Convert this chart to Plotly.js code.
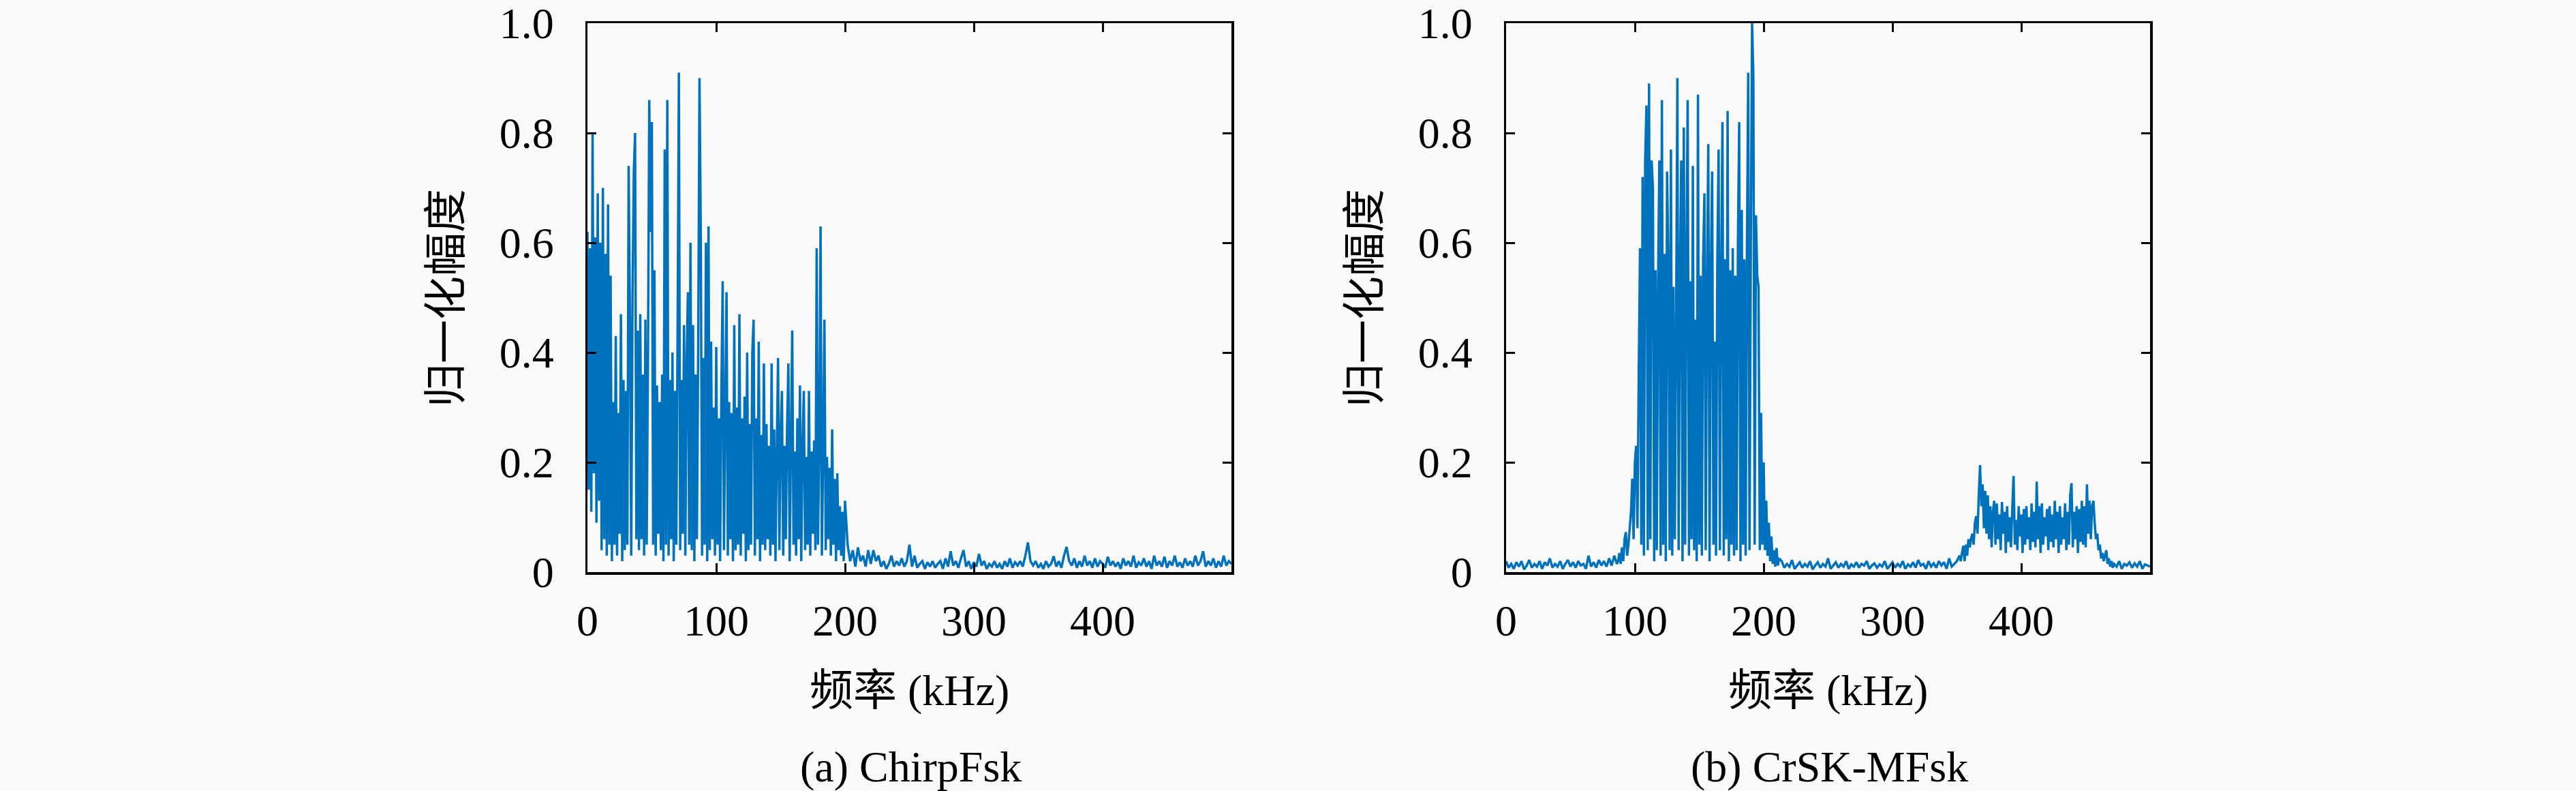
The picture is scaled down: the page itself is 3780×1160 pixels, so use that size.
<!DOCTYPE html>
<html>
<head>
<meta charset="utf-8">
<script src="https://cdn.plot.ly/plotly-3.0.1.min.js"></script>
<style>
  html, body { margin: 0; padding: 0; background: #f9f9f9; }
</style>
</head>
<body>
<div id="chart" style="width:3780px;height:1160px;"></div>
<script>
// ---- data (normalised amplitude vs frequency in kHz) ----
var xTickVals = [0, 100, 200, 300, 400];
var xTickText = ['0', '100', '200', '300', '400'];
var yTickVals = [0, 0.2, 0.4, 0.6, 0.8, 1.0];
var yTickText = ['0', '0.2', '0.4', '0.6', '0.8', '1.0'];

// (a) ChirpFsk: 0..200 kHz every 1 kHz
var chirpBand = [
  0.62, 0.15, 0.59, 0.11, 0.80, 0.18, 0.61, 0.09, 0.69, 0.13,
  0.60, 0.04, 0.70, 0.06, 0.58, 0.03, 0.67, 0.05, 0.54, 0.02,
  0.31, 0.05, 0.43, 0.03, 0.29, 0.07, 0.47, 0.02, 0.35, 0.04,
  0.33, 0.05, 0.74, 0.46, 0.03, 0.50, 0.73, 0.80, 0.06, 0.44,
  0.04, 0.47, 0.06, 0.36, 0.03, 0.46, 0.05, 0.39, 0.86, 0.62,
  0.82, 0.05, 0.55, 0.03, 0.34, 0.07, 0.31, 0.04, 0.36, 0.02,
  0.77, 0.05, 0.86, 0.03, 0.35, 0.06, 0.40, 0.02, 0.33, 0.05,
  0.44, 0.91, 0.04, 0.35, 0.07, 0.45, 0.03, 0.38, 0.51, 0.05,
  0.60, 0.04, 0.45, 0.02, 0.36, 0.06, 0.41, 0.90, 0.62, 0.03,
  0.39, 0.05, 0.60, 0.02, 0.63, 0.04, 0.42, 0.06, 0.30, 0.03,
  0.41, 0.05, 0.28, 0.02, 0.33, 0.53, 0.04, 0.29, 0.51, 0.03,
  0.31, 0.06, 0.29, 0.02, 0.45, 0.04, 0.30, 0.05, 0.47, 0.03,
  0.28, 0.07, 0.32, 0.02, 0.40, 0.04, 0.27, 0.05, 0.40, 0.46,
  0.03, 0.28, 0.06, 0.42, 0.02, 0.25, 0.05, 0.38, 0.04, 0.27,
  0.06, 0.23, 0.03, 0.38, 0.05, 0.26, 0.02, 0.22, 0.39, 0.04,
  0.25, 0.33, 0.03, 0.23, 0.06, 0.26, 0.38, 0.02, 0.24, 0.44,
  0.05, 0.22, 0.03, 0.28, 0.06, 0.34, 0.02, 0.23, 0.33, 0.04,
  0.21, 0.05, 0.33, 0.03, 0.22, 0.07, 0.24, 0.04, 0.59, 0.05,
  0.23, 0.63, 0.03, 0.22, 0.46, 0.04, 0.21, 0.06, 0.19, 0.03,
  0.26, 0.05, 0.17, 0.02, 0.18, 0.04, 0.12, 0.03, 0.11, 0.02,
  0.13
];
// (a) ChirpFsk: 202..500 kHz every 2 kHz
var chirpTail = [
  0.05, 0.02, 0.04, 0.01, 0.045, 0.02, 0.03, 0.01, 0.04, 0.015,
  0.04, 0.02, 0.03, 0.01, 0.02, 0.006, 0.015, 0.03, 0.01, 0.02,
  0.012, 0.025, 0.01, 0.02, 0.05, 0.01, 0.03, 0.008, 0.015, 0.02,
  0.006, 0.018, 0.01, 0.02, 0.008, 0.015, 0.02, 0.006, 0.025, 0.01,
  0.038, 0.012, 0.02, 0.008, 0.025, 0.04, 0.01, 0.02, 0.006, 0.018,
  0.01, 0.033, 0.012, 0.02, 0.006, 0.015, 0.01, 0.02, 0.008, 0.015,
  0.006, 0.02, 0.01, 0.025, 0.008, 0.018, 0.012, 0.02, 0.01, 0.03,
  0.054, 0.02, 0.012, 0.02, 0.008, 0.015, 0.006, 0.02, 0.01, 0.015,
  0.029, 0.01, 0.02, 0.008, 0.03, 0.046, 0.02, 0.012, 0.025, 0.008,
  0.02, 0.01, 0.03, 0.012, 0.02, 0.008, 0.025, 0.01, 0.02, 0.015,
  0.008, 0.028, 0.012, 0.02, 0.01, 0.018, 0.006, 0.025, 0.012, 0.02,
  0.01, 0.03, 0.008, 0.018, 0.012, 0.025, 0.01, 0.02, 0.006, 0.03,
  0.012, 0.02, 0.01, 0.028, 0.008, 0.02, 0.012, 0.03, 0.01, 0.018,
  0.008, 0.025, 0.012, 0.02, 0.01, 0.03, 0.012, 0.02, 0.038, 0.01,
  0.02, 0.012, 0.025, 0.008, 0.02, 0.01, 0.03, 0.012, 0.02, 0.015
];

// (b) CrSK-MFsk: 0..86 kHz every 2 kHz
var crskNoiseA = [
  0.02, 0.008, 0.015, 0.006, 0.018, 0.01, 0.02, 0.005, 0.012, 0.022,
  0.008, 0.015, 0.01, 0.02, 0.006, 0.018, 0.012, 0.025, 0.008, 0.015,
  0.01, 0.02, 0.006, 0.015, 0.022, 0.01, 0.018, 0.008, 0.02, 0.012,
  0.015, 0.006, 0.03, 0.01, 0.018, 0.008, 0.022, 0.012, 0.02, 0.01,
  0.025, 0.012, 0.03, 0.015
];
// (b) CrSK-MFsk: 87..212 kHz every 1 kHz
var crskBandA = [
  0.02, 0.035, 0.015, 0.045, 0.02, 0.06, 0.073, 0.03, 0.05, 0.08,
  0.11, 0.17, 0.06, 0.20, 0.23, 0.08, 0.36, 0.59, 0.05, 0.72,
  0.03, 0.75, 0.85, 0.04, 0.89, 0.06, 0.75, 0.70, 0.02, 0.55,
  0.04, 0.53, 0.75, 0.03, 0.86, 0.05, 0.58, 0.02, 0.73, 0.56,
  0.04, 0.77, 0.03, 0.52, 0.06, 0.44, 0.90, 0.04, 0.55, 0.75,
  0.02, 0.81, 0.05, 0.57, 0.86, 0.03, 0.53, 0.06, 0.74, 0.04,
  0.46, 0.02, 0.87, 0.05, 0.54, 0.03, 0.57, 0.69, 0.04, 0.53,
  0.78, 0.02, 0.55, 0.73, 0.05, 0.42, 0.03, 0.56, 0.77, 0.04,
  0.54, 0.82, 0.03, 0.57, 0.06, 0.84, 0.02, 0.55, 0.05, 0.59,
  0.03, 0.54, 0.04, 0.60, 0.82, 0.02, 0.66, 0.05, 0.57, 0.03,
  0.59, 0.91, 0.04, 0.58, 1.0, 0.90, 0.05, 0.65, 0.54, 0.52,
  0.04, 0.29, 0.05, 0.20, 0.04, 0.13, 0.03, 0.09, 0.02, 0.065,
  0.015, 0.04, 0.01, 0.044, 0.012, 0.025
];
// (b) CrSK-MFsk: 214..352 kHz every 2 kHz
var crskNoiseB = [
  0.02, 0.008, 0.015, 0.01, 0.022, 0.006, 0.012, 0.018, 0.008, 0.015,
  0.01, 0.02, 0.005, 0.012, 0.018, 0.008, 0.015, 0.01, 0.025, 0.006,
  0.012, 0.018, 0.008, 0.015, 0.01, 0.02, 0.006, 0.014, 0.01, 0.018,
  0.008, 0.015, 0.012, 0.02, 0.006, 0.012, 0.016, 0.008, 0.014, 0.01,
  0.02, 0.006, 0.012, 0.018, 0.008, 0.015, 0.01, 0.02, 0.006, 0.014,
  0.01, 0.018, 0.008, 0.022, 0.012, 0.015, 0.006, 0.02, 0.01, 0.016,
  0.008, 0.02, 0.012, 0.018, 0.006, 0.025, 0.01, 0.015, 0.02, 0.03
];
// (b) CrSK-MFsk: 353..472 kHz every 1 kHz
var crskBandB = [
  0.02, 0.035, 0.048, 0.02, 0.05, 0.03, 0.06, 0.045, 0.061, 0.07,
  0.05, 0.09, 0.102, 0.07, 0.14, 0.195, 0.12, 0.16, 0.08, 0.148,
  0.07, 0.14, 0.06, 0.12, 0.045, 0.11, 0.13, 0.05, 0.125, 0.06,
  0.105, 0.04, 0.128, 0.07, 0.11, 0.035, 0.12, 0.055, 0.10, 0.045,
  0.115, 0.175, 0.05, 0.095, 0.04, 0.12, 0.065, 0.105, 0.035, 0.115,
  0.05, 0.12, 0.06, 0.10, 0.04, 0.125, 0.055, 0.11, 0.045, 0.165,
  0.06, 0.12, 0.035, 0.125, 0.05, 0.10, 0.065, 0.115, 0.04, 0.12,
  0.055, 0.105, 0.045, 0.13, 0.06, 0.11, 0.035, 0.12, 0.05, 0.10,
  0.06, 0.125, 0.04, 0.11, 0.05, 0.14, 0.162, 0.045, 0.11, 0.06,
  0.12, 0.035, 0.115, 0.055, 0.13, 0.05, 0.12, 0.045, 0.16, 0.07,
  0.13, 0.06, 0.12, 0.13, 0.089, 0.06, 0.07, 0.04, 0.05, 0.025,
  0.035, 0.02, 0.03, 0.04, 0.015, 0.025, 0.01, 0.02, 0.008, 0.015
];
// (b) CrSK-MFsk: 474..500 kHz every 2 kHz
var crskNoiseC = [
  0.01, 0.02, 0.006, 0.015, 0.012, 0.018, 0.008, 0.016, 0.01, 0.02,
  0.006, 0.014, 0.012, 0.01
];

// each piece of a spectrum is sampled on its own frequency grid (start, step)
function joinPieces(pieces) {
    var xs = [], ys = [];
    pieces.forEach(function (p) {
        for (var i = 0; i < p.values.length; i++) {
            xs.push(p.start + i * p.step);
            ys.push(p.values[i]);
        }
    });
    return {x: xs, y: ys};
}

var chirp = joinPieces([
    {start: 0, step: 1, values: chirpBand},
    {start: 202, step: 2, values: chirpTail}
]);
var crsk = joinPieces([
    {start: 0, step: 2, values: crskNoiseA},
    {start: 87, step: 1, values: crskBandA},
    {start: 214, step: 2, values: crskNoiseB},
    {start: 353, step: 1, values: crskBandB},
    {start: 474, step: 2, values: crskNoiseC}
]);

var W = 3780, H = 1160;
var serif = 'Liberation Serif, "Noto Sans CJK SC", serif';
var lineColor = '#0072bd';

var data = [
    {
        type: 'scatter', mode: 'lines',
        x: chirp.x, y: chirp.y,
        xaxis: 'x', yaxis: 'y',
        line: {color: lineColor, width: 3.5, simplify: false},
        name: 'ChirpFsk', showlegend: false
    },
    {
        type: 'scatter', mode: 'lines',
        x: crsk.x, y: crsk.y,
        xaxis: 'x2', yaxis: 'y2',
        line: {color: lineColor, width: 3.5, simplify: false},
        name: 'CrSK-MFsk', showlegend: false
    }
];

function xAxis(domain, anchor) {
    return {
        domain: domain, anchor: anchor,
        range: [0, 500], fixedrange: true,
        tickmode: 'array', tickvals: xTickVals, ticktext: xTickText,
        ticks: 'inside', ticklen: 13, tickwidth: 3, tickcolor: '#000',
        showline: true, linecolor: '#000', linewidth: 3.5, mirror: 'ticks',
        showgrid: false, zeroline: false,
        ticklabelstandoff: 13, ticklabeloverflow: 'allow',
        tickfont: {family: serif, size: 64, color: '#000'}
    };
}
function yAxis(domain, anchor) {
    return {
        domain: domain, anchor: anchor,
        range: [0, 1.0001], fixedrange: true,
        tickmode: 'array', tickvals: yTickVals, ticktext: yTickText,
        ticks: 'inside', ticklen: 13, tickwidth: 3, tickcolor: '#000',
        showline: true, linecolor: '#000', linewidth: 3.5, mirror: 'ticks',
        showgrid: false, zeroline: false,
        ticklabelstandoff: 33, ticklabeloverflow: 'allow',
        tickfont: {family: serif, size: 64, color: '#000'}
    };
}

var yDom = [(H - 839) / H, (H - 34) / H];
var leftDom = [862 / W, 1807 / W];
var rightDom = [2210 / W, 3155 / W];

function label(text, px, py, angle) {
    return {
        text: text, xref: 'paper', yref: 'paper',
        x: px / W, y: 1 - py / H,
        xanchor: 'center', yanchor: 'middle',
        textangle: angle || 0, showarrow: false,
        font: {family: serif, size: 64, color: '#000'}
    };
}

var layout = {
    width: W, height: H,
    margin: {l: 0, r: 0, t: 0, b: 0},
    paper_bgcolor: '#f9f9f9',
    plot_bgcolor: '#f9f9f9',
    showlegend: false,
    xaxis: xAxis(leftDom, 'y'),
    yaxis: yAxis(yDom, 'x'),
    xaxis2: xAxis(rightDom, 'y2'),
    yaxis2: yAxis(yDom, 'x2'),
    annotations: [
        label('频率 (kHz)', 1334, 1012),
        label('频率 (kHz)', 2682, 1012),
        label('归一化幅度', 655, 437, -90),
        label('归一化幅度', 2003, 437, -90),
        label('(a) ChirpFsk', 1336, 1124),
        label('(b) CrSK-MFsk', 2684, 1124)
    ]
};

Plotly.newPlot('chart', data, layout, {displayModeBar: false, staticPlot: true});
</script>
</body>
</html>
